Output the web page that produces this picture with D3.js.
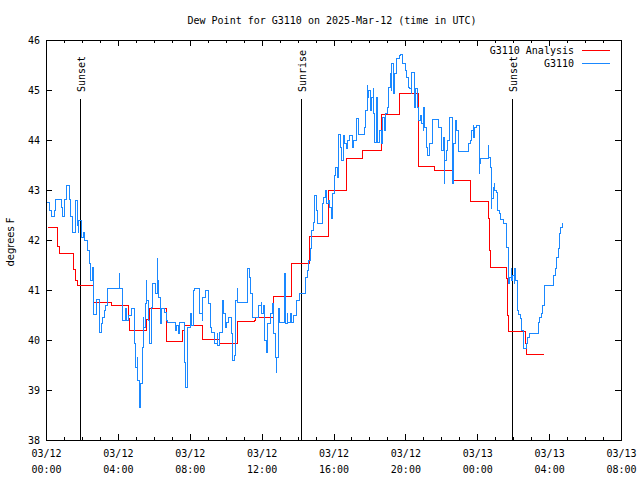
<!DOCTYPE html>
<html><head><meta charset="utf-8">
<script src="https://cdn.jsdelivr.net/npm/d3@7/dist/d3.min.js"></script>
<style>
body{margin:0;background:#fff}
text{font-family:"DejaVu Sans Mono",monospace;font-size:10px;fill:#000}
</style>
</head><body><svg id="c" width="640" height="480"></svg>
<script>
// ---- data (minutes after 2025-03-12 00:00 UTC) ----
const obsMinutes = [3,13,17,27,33,53,55,63,67,70,77,83,90,97,100,104,107,110,117,124,130,137,144,147,154,157,160,170,180,184,187,194,200,204,207,244,247,254,257,267,270,277,287,294,297,300,304,307,311,317,321,324,327,331,334,337,341,347,351,354,357,364,371,372,374,381,387,397,404,407,431,437,444,447,464,467,471,474,481,487,491,494,497,511,514,521,524,531,541,548,551,564,571,574,581,591,594,598,604,608,621,624,631,634,638,641,674,678,684,688,711,718,721,725,728,731,735,738,741,748,755,758,761,765,768,771,775,778,781,795,798,801,805,808,818,821,828,835,838,845,865,868,872,878,882,885,888,892,895,898,902,905,908,922,925,932,938,942,948,952,958,962,968,975,978,985,988,992,995,998,1005,1008,1015,1022,1028,1038,1042,1062,1068,1072,1075,1078,1082,1088,1092,1095,1098,1105,1107,1108,1115,1119,1125,1129,1132,1139,1142,1149,1152,1155,1159,1162,1165,1169,1172,1179,1185,1189,1192,1199,1205,1209,1215,1219,1222,1229,1232,1235,1239,1245,1252,1255,1259,1262,1265,1269,1272,1275,1282,1289,1312,1319,1322,1326,1329,1332,1336,1342,1349,1356,1359,1362,1366,1369,1372,1376,1412,1419,1422,1426,1429,1432,1436,1446,1449,1452,1476,1479,1483,1486,1488,1489,1493,1496,1499,1503,1506,1508,1513,1516,1519,1526,1536,1539,1543,1544,1546,1549,1553,1556,1559,1563,1566,1569,1573,1576,1579,1583,1589,1593,1606,1609,1613,1646,1649,1656,1659,1663,1666,1693,1696,1700,1703,1706,1710,1713,1716,1719,1723];
const obsValues = [42.76,42.6,42.48,42.6,42.82,42.66,42.48,42.82,43.0,43.1,42.82,42.48,42.16,42.34,42.8,42.3,42.16,42.4,42.06,42.16,42.0,41.8,41.54,41.2,41.46,40.8,40.52,40.82,40.16,40.34,40.46,40.6,40.7,41.0,41.04,41.34,41.04,40.74,40.4,40.64,40.4,40.5,40.64,40.2,39.94,39.46,39.66,39.2,38.66,39.14,39.86,40.46,40.26,40.74,41.2,40.8,40.4,39.94,40.66,40.8,41.14,40.94,41.64,41.2,40.86,40.34,40.64,40.56,40.4,40.36,40.2,40.3,40.14,40.36,39.56,39.06,39.66,40.26,40.54,40.3,40.64,41.0,41.04,40.74,40.54,40.4,40.86,41.0,40.74,40.26,40.16,39.94,40.14,39.9,40.16,40.8,40.54,40.26,40.36,40.46,40.14,39.6,39.7,40.8,41.04,40.76,41.44,41.26,40.94,40.46,40.7,40.76,40.54,40.7,40.3,40.0,39.76,40.14,40.34,40.54,40.74,40.46,40.14,39.66,39.36,39.66,40.14,40.64,40.36,40.64,41.34,40.34,40.54,40.36,40.54,40.36,40.5,40.64,40.8,40.94,41.14,41.26,41.4,41.6,41.84,42.06,42.2,42.36,42.74,42.9,42.6,42.56,42.34,42.74,42.86,43.0,42.74,42.8,42.66,42.44,42.94,43.3,43.46,43.26,44.12,43.86,43.6,43.66,44.1,43.94,43.84,44.0,44.1,43.86,44.0,44.44,44.12,44.26,44.6,45.1,44.86,45.0,44.6,44.86,45.04,44.54,43.96,44.86,44.2,43.96,44.2,43.94,44.46,44.2,44.54,44.66,45.06,45.34,45.0,45.54,45.14,44.94,45.34,45.46,45.64,45.7,45.72,45.64,45.54,45.4,45.26,45.06,45.04,44.94,45.36,44.86,44.66,45.04,44.66,44.4,44.5,44.34,44.2,44.66,44.26,44.0,43.86,43.7,43.94,44.42,44.26,43.94,43.8,44.06,43.14,43.6,43.8,44.0,44.46,44.14,43.14,43.94,44.2,44.4,44.2,43.78,43.94,44.0,44.2,44.3,44.06,44.26,44.3,43.34,43.54,43.64,43.9,43.66,43.46,42.96,42.64,42.84,43.06,43.14,43.0,42.96,42.76,42.6,42.54,42.46,42.42,42.34,42.16,41.86,41.56,41.34,41.14,41.26,41.44,41.2,41.3,41.14,41.44,41.2,40.84,40.6,40.52,40.44,40.2,39.84,39.94,40.06,40.14,40.36,40.46,40.54,40.7,41.0,41.1,41.14,41.3,41.44,41.54,41.66,41.84,41.96,42.14,42.26,42.34];
const anaMinutes = [7,37,40,45,93,100,104,157,160,220,277,280,337,344,401,457,461,521,578,638,695,701,758,821,881,942,1005,1058,1119,1179,1245,1296,1359,1419,1478,1481,1483,1538,1541,1544,1601,1605,1663];
const anaValues  = [42.25,42.1,41.87,41.74,41.42,41.2,41.09,40.95,40.75,40.69,40.44,40.2,40.42,40.64,39.97,40.2,40.3,40.02,39.93,40.37,40.4,40.45,40.88,41.53,42.07,43.0,43.63,43.8,44.51,44.93,43.47,43.4,43.2,42.78,42.43,41.8,41.45,41.24,40.5,40.17,39.94,39.71,39.71];
const yTickValues = [38,39,40,41,42,43,44,45,46];
const sunLabels = ["Sunset","Sunrise","Sunset"];
const sunMinutes = [115,852,1555];
const seriesNames = ["G3110 Analysis","G3110"];
const seriesColors = ["#ff0000","#1a88ff"];
const titleText = "Dew Point for G3110 on 2025-Mar-12 (time in UTC)";
const yLabelText = "degrees F";

// ---- drawing ----
const svg = d3.select("#c");
const t0 = Date.UTC(2025,2,12,0,0);
const toDate = m => new Date(t0 + m*60000);
const L=46, R=621, T=40, B=440;
const x = d3.scaleUtc().domain([toDate(0), toDate(32*60)]).range([L,R]);
const y = d3.scaleLinear().domain([38,46]).range([B,T]);

const majorTicks = d3.range(0, 32*60+1, 240).map(toDate);
const minorTicks = d3.range(0, 32*60+1, 60).map(toDate).filter((d,i)=> i%4!==0);

function strip(g){ g.select(".domain").remove(); g.selectAll("line").attr("stroke","#000").attr("shape-rendering","crispEdges"); }

// bottom axis with labels
const fmtD = d3.utcFormat("%m/%d"), fmtT = d3.utcFormat("%H:%M");
const gb = svg.append("g").attr("transform",`translate(0,${B})`)
  .call(d3.axisBottom(x).tickValues(majorTicks).tickSize(-6).tickPadding(8).tickFormat(""));
strip(gb);
gb.selectAll(".tick text").each(function(d){
  const t=d3.select(this).attr("y",10).attr("dy",null);
  t.append("tspan").attr("x",0).attr("dy","0.71em").text(fmtD(d));
  t.append("tspan").attr("x",0).attr("dy",16).text(fmtT(d));
});
gb.attr("font-family",null).attr("font-size",null);
const gbm = svg.append("g").attr("transform",`translate(0,${B})`)
  .call(d3.axisBottom(x).tickValues(minorTicks).tickSize(-3).tickFormat(""));
strip(gbm);
const gt = svg.append("g").attr("transform",`translate(0,${T})`)
  .call(d3.axisTop(x).tickValues(majorTicks).tickSize(-6).tickFormat(""));
strip(gt);
const gtm = svg.append("g").attr("transform",`translate(0,${T})`)
  .call(d3.axisTop(x).tickValues(minorTicks).tickSize(-3).tickFormat(""));
strip(gtm);

const gl = svg.append("g").attr("transform",`translate(${L},0)`)
  .call(d3.axisLeft(y).tickValues(yTickValues).tickSize(-6).tickPadding(6).tickFormat(d3.format("d")));
strip(gl);
gl.attr("font-family",null).attr("font-size",null);
const gr = svg.append("g").attr("transform",`translate(${R},0)`)
  .call(d3.axisRight(y).tickValues(yTickValues).tickSize(-6).tickFormat(""));
strip(gr);

// frame
svg.append("rect").attr("x",L).attr("y",T).attr("width",R-L).attr("height",B-T)
  .attr("fill","none").attr("stroke","#000").attr("shape-rendering","crispEdges");

// sun events
sunMinutes.forEach((m,i)=>{
  const xs = Math.round(x(toDate(m)));
  svg.append("line").attr("x1",xs).attr("x2",xs).attr("y1",99).attr("y2",B)
    .attr("stroke","#000").attr("shape-rendering","crispEdges");
  svg.append("text").attr("transform",`translate(${xs+4.5},92) rotate(-90)`)
    .attr("text-anchor","start").text(sunLabels[i]);
});

// series
const line = d3.line().curve(d3.curveStepAfter).x(d=>x(toDate(d[0]))).y(d=>y(d[1]));
const ana = anaMinutes.map((m,i)=>[m,anaValues[i]]);
const obs = obsMinutes.map((m,i)=>[m,obsValues[i]]);
svg.append("path").datum(ana).attr("d",line).attr("fill","none")
  .attr("stroke",seriesColors[0]).attr("stroke-width",1).attr("shape-rendering","crispEdges");
svg.append("path").datum(obs).attr("d",line).attr("fill","none")
  .attr("stroke",seriesColors[1]).attr("stroke-width",1).attr("shape-rendering","crispEdges");

// legend
seriesNames.forEach((n,i)=>{
  const ly = 50 + i*13;
  svg.append("text").attr("x",574).attr("y",ly+4).attr("text-anchor","end").text(n);
  svg.append("line").attr("x1",582).attr("x2",610).attr("y1",ly).attr("y2",ly)
    .attr("stroke",seriesColors[i]).attr("shape-rendering","crispEdges");
});

// titles
svg.append("text").attr("x",332).attr("y",24).attr("text-anchor","middle").text(titleText);
svg.append("text").attr("transform","translate(14,242) rotate(-90)").attr("text-anchor","middle")
  .style("font-family","'DejaVu Sans',sans-serif").text(yLabelText);
</script>
</body></html>
